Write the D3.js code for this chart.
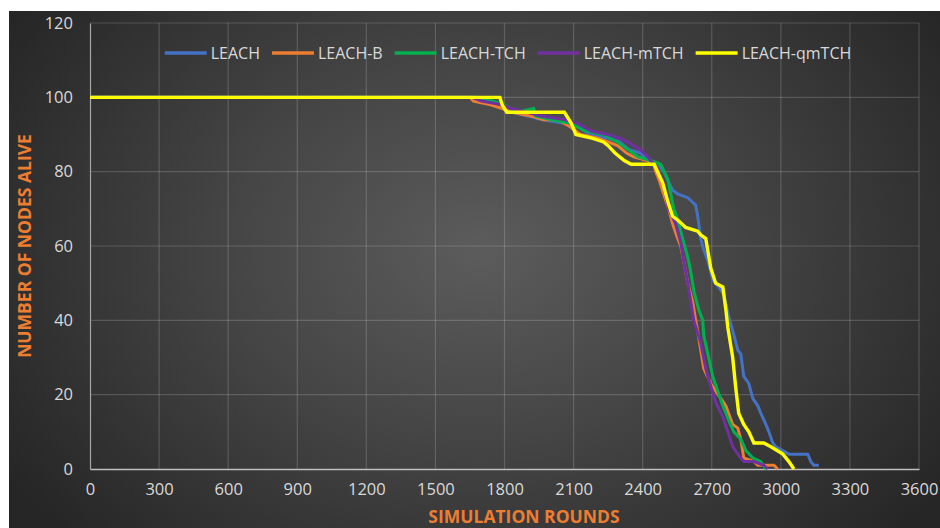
<!DOCTYPE html>
<html>
<head>
<meta charset="utf-8">
<script src="https://cdn.jsdelivr.net/npm/d3@7"></script>
<style>
  html, body { margin: 0; padding: 0; background: #ffffff; }
  svg { display: block; }
  text { font-family: "Liberation Sans Narrow", "Arial Narrow", "Open Sans", sans-serif; }
</style>
</head>
<body>
<svg id="chart" width="940" height="528"></svg>
<script>
// ---- data (rounds, nodes alive) ----
const seriesNames = ["LEACH", "LEACH-B", "LEACH-TCH", "LEACH-mTCH", "LEACH-qmTCH"];
const seriesColors = ["#4472C4", "#ED7D31", "#00B050", "#7030A0", "#FFFF00"];

const leach = [[0,100],[1670,100],[1720,99],[1790,98],[1830,96],[1900,95],[1960,94],[2060,93],[2120,92],[2170,90],[2250,89],[2300,88],[2340,86],[2390,85],[2430,83],[2478,81],[2491,80],[2530,75],[2552,74],[2596,73],[2630,71],[2639,68],[2652,62],[2665,59],[2683,56],[2704,51],[2730,49],[2752,47],[2774,41],[2796,36],[2813,32],[2826,31],[2839,25],[2861,23],[2878,19],[2900,17],[2913,15],[2935,12],[2948,10],[2965,7],[2978,6],[3035,4],[3117,4],[3130,2],[3143,1],[3165,1]];

const leachB = [[0,100],[1650,100],[1665,99],[1740,98],[1790,97],[1835,96],[1913,95],[1970,94],[2030,94],[2087,92],[2130,90],[2204,89],[2250,88],[2291,87],[2330,85],[2361,84],[2420,83],[2448,82],[2457,80],[2470,78],[2491,74],[2513,70],[2530,66],[2552,62],[2565,60],[2578,56],[2596,50],[2617,45],[2630,40],[2639,37],[2665,27],[2696,23],[2717,21],[2739,19],[2761,17],[2791,12],[2813,11],[2826,8],[2839,3],[2883,2],[2900,1],[2970,1],[2987,0]];

const leachTCH = [[0,100],[1680,100],[1750,99],[1800,98],[1850,96],[1926,97],[1935,95],[2000,94],[2087,93],[2150,91],[2230,90],[2290,88],[2335,86],[2380,84],[2435,83],[2478,82],[2509,78],[2522,74],[2535,70],[2557,66],[2578,61],[2596,57],[2609,53],[2622,48],[2643,43],[2661,40],[2665,36],[2683,31],[2704,25],[2726,21],[2748,17],[2774,13],[2796,10],[2826,8],[2848,5],[2878,3],[2913,2],[2935,0]];

const leachMTCH = [[0,100],[1660,100],[1700,99],[1790,98],[1826,97],[1900,96],[1957,95],[2060,94],[2117,93],[2174,91],[2248,90],[2300,89],[2335,88],[2390,86],[2422,84],[2435,83],[2465,81],[2491,76],[2513,70],[2543,66],[2565,61],[2578,56],[2596,50],[2609,45],[2622,40],[2652,34],[2674,27],[2687,24],[2717,18],[2748,14],[2770,10],[2791,6],[2813,4],[2839,2],[2883,2],[2926,1],[2943,0]];

const leachQMTCH = [[0,100],[1780,100],[1790,98],[1810,96],[2060,96],[2090,93],[2110,90],[2180,89],[2230,88],[2250,87],[2280,85],[2320,83],[2350,82],[2450,82],[2487,77],[2509,72],[2530,68],[2552,67],[2587,65],[2639,64],[2652,63],[2674,62],[2696,54],[2717,50],[2748,49],[2761,43],[2770,38],[2791,30],[2804,22],[2817,15],[2839,12],[2861,10],[2883,7],[2926,7],[2957,6],[3009,4],[3035,2],[3057,0]];

const seriesData = [leach, leachB, leachTCH, leachMTCH, leachQMTCH];
const xTicks = [0,300,600,900,1200,1500,1800,2100,2400,2700,3000,3300,3600];
const yTicks = [0,20,40,60,80,100,120];
const xTitle = "SIMULATION ROUNDS";
const yTitle = "NUMBER OF NODES ALIVE";

// ---- layout ----
const W = 940, H = 528;
const frame = {x: 9, y: 11};
const plot = {left: 90, right: 919, top: 23, bottom: 469};

const svg = d3.select("#chart");
const defs = svg.append("defs");
const grad = defs.append("radialGradient").attr("id", "bg")
  .attr("gradientUnits", "userSpaceOnUse")
  .attr("cx", 480).attr("cy", 250).attr("r", 560)
  .attr("gradientTransform", "translate(480,250) scale(1,0.75) translate(-480,-250)");
grad.append("stop").attr("offset", "0%").attr("stop-color", "#5c5c5c");
grad.append("stop").attr("offset", "45%").attr("stop-color", "#454545");
grad.append("stop").attr("offset", "100%").attr("stop-color", "#262626");

svg.append("rect").attr("x", frame.x).attr("y", frame.y)
  .attr("width", W - frame.x).attr("height", H - frame.y)
  .attr("fill", "url(#bg)");

const x = d3.scaleLinear().domain([0, 3600]).range([plot.left, plot.right]);
const y = d3.scaleLinear().domain([0, 120]).range([plot.bottom, plot.top]);

// gridlines
const grid = svg.append("g");
grid.selectAll("line.v").data(xTicks.slice(1)).join("line")
  .attr("x1", d => x(d)).attr("x2", d => x(d))
  .attr("y1", plot.top).attr("y2", plot.bottom)
  .attr("stroke", "#ffffff").attr("stroke-opacity", 0.17).attr("stroke-width", 1.2);
grid.selectAll("line.h").data(yTicks.slice(1)).join("line")
  .attr("x1", plot.left).attr("x2", plot.right)
  .attr("y1", d => y(d)).attr("y2", d => y(d))
  .attr("stroke", "#ffffff").attr("stroke-opacity", 0.17).attr("stroke-width", 1.2);

// axes
const xAxis = d3.axisBottom(x).tickValues(xTicks).tickSize(0).tickPadding(14).tickFormat(d3.format("d"));
const yAxis = d3.axisLeft(y).tickValues(yTicks).tickSize(0).tickPadding(17).tickFormat(d3.format("d"));

const gx = svg.append("g").attr("transform", `translate(0,${plot.bottom})`).call(xAxis);
gx.select(".domain").attr("stroke", "#bfbfbf").attr("stroke-width", 1.5);
gx.selectAll("text").attr("fill", "#d9d9d9").style("font-size", "16.5px");

const gy = svg.append("g").attr("transform", `translate(${plot.left},0)`).call(yAxis);
gy.select(".domain").attr("stroke", "#a6a6a6").attr("stroke-width", 1.2);
gy.selectAll("text").attr("fill", "#d9d9d9").style("font-size", "16.5px");

// lines
const line = d3.line().x(d => x(d[0])).y(d => y(d[1])).curve(d3.curveLinear);
svg.append("g").selectAll("path").data(seriesData).join("path")
  .attr("d", d => line(d))
  .attr("fill", "none")
  .attr("stroke", (d, i) => seriesColors[i])
  .attr("stroke-width", (d, i) => i === 4 ? 3.4 : 3)
  .attr("stroke-linejoin", "miter");

// titles
svg.append("text").attr("x", 524).attr("y", 523)
  .attr("text-anchor", "middle").attr("fill", "#ED7D31")
  .style("font-size", "17.5px").style("font-weight", "bold").text(xTitle);
svg.append("text").attr("transform", `translate(31,246) rotate(-90)`)
  .attr("text-anchor", "middle").attr("fill", "#ED7D31")
  .style("font-size", "17.5px").style("font-weight", "bold").text(yTitle);

// legend
const legend = svg.append("g");
const items = legend.selectAll("g").data(seriesNames).join("g");
items.append("line").attr("x1", 0).attr("x2", 42).attr("y1", 0).attr("y2", 0)
  .attr("stroke", (d, i) => seriesColors[i]).attr("stroke-width", 3.5);
items.append("text").attr("x", 46).attr("y", 6).attr("fill", "#d9d9d9")
  .style("font-size", "16px").text(d => d);
let widths = [];
items.each(function () {
  widths.push(46 + this.querySelector("text").getComputedTextLength());
});
const gap = 12;
const total = d3.sum(widths) + gap * (widths.length - 1);
let cx = 508 - total / 2;
items.attr("transform", (d, i) => {
  const t = `translate(${cx},53)`;
  cx += widths[i] + gap;
  return t;
});
</script>
</body>
</html>
